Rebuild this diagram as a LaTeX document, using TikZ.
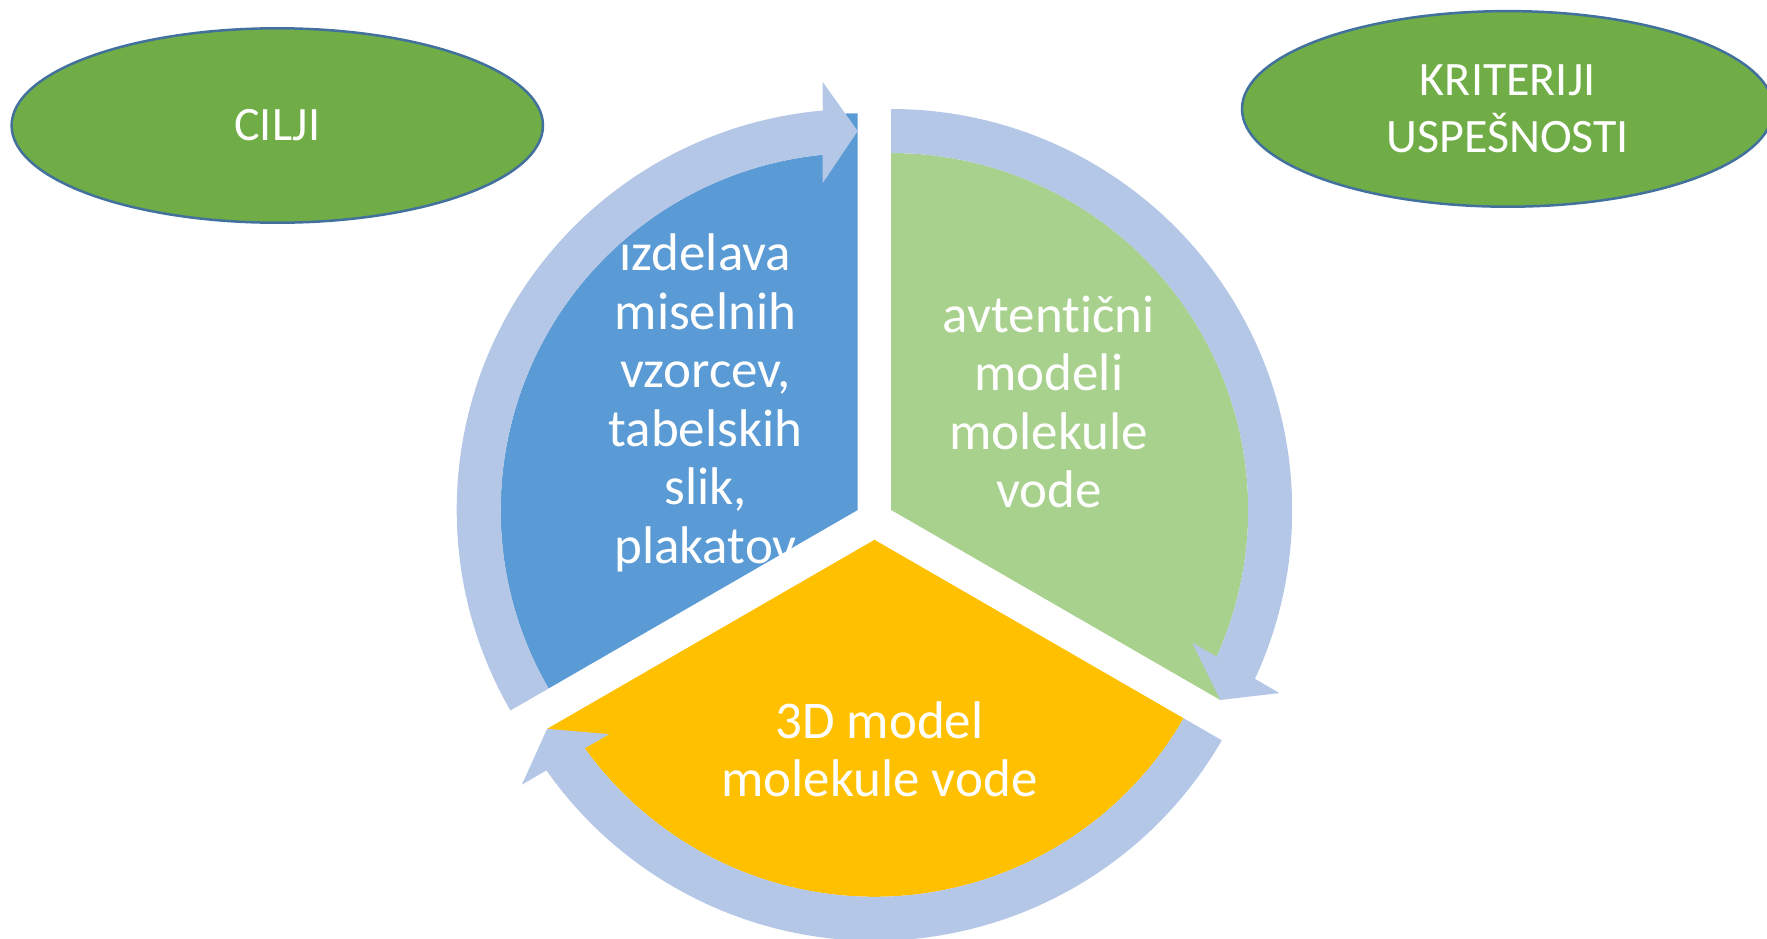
\documentclass[tikz,border=0pt]{standalone}
\usepackage{fontspec}
\setmainfont{Carlito}[Ligatures=NoCommon]
\usetikzlibrary{shapes.geometric}
\definecolor{ringblue}{HTML}{B4C7E7}
\definecolor{segblue}{HTML}{5B9BD5}
\definecolor{seggreen}{HTML}{A9D18E}
\definecolor{segorange}{HTML}{FFC000}
\definecolor{ovalfill}{HTML}{70AD47}
\definecolor{ovalline}{HTML}{41719C}
\newcommand{\topstrut}{\rule{0pt}{40pt}}
\begin{document}
\begin{tikzpicture}[x=1pt,y=1pt,
  oval/.style={ellipse, draw=ovalline, line width=2.5pt, fill=ovalfill, inner sep=0pt,
    text=white, align=center, font=\fontsize{48}{56.7}\selectfont},
  segtext/.style={text=white, align=center, inner sep=0pt, anchor=north,
    font=\fontsize{53}{58.5}\selectfont},
  ringfill/.style={fill=ringblue}]
\useasboundingbox (0,0) rectangle (1767,-938);
\clip (0,0) rectangle (1767,-938);

% centres of the three segments
\coordinate (cb) at (857.7,-510);
\coordinate (cg) at (891.2,-510);
\coordinate (co) at (874.5,-539.8);

% segments
\begin{scope}[shift={(cb)}]
  \fill[segblue] (0,0) -- (210:357) arc[start angle=210, end angle=93, radius=357]
    -- (-12,396.7) -- (0,396.7) -- cycle;
\end{scope}
\begin{scope}[shift={(cg)}]
  \fill[seggreen] (0,0) -- (90:357) arc[start angle=90, end angle=-24.5, radius=357]
    -- (-30:380) -- cycle;
\end{scope}
\begin{scope}[shift={(co)}]
  \fill[segorange] (0,0) -- (-30:357) arc[start angle=-30, end angle=-144.5, radius=357]
    -- (-150:378) -- cycle;
\end{scope}

% circular arrows
\begin{scope}[shift={(cb)}]
  \fill[ringfill] (210:401) arc[start angle=210, end angle=95.0, radius=401]
    -- (-35.0,428.0) -- (90:379) -- (-35.0,327.0) -- (95.63:357)
    arc[start angle=95.63, end angle=210, radius=357] -- cycle;
\end{scope}
\begin{scope}[shift={(cg)}]
  \fill[ringfill] (90:401) arc[start angle=90, end angle=-24.9, radius=401]
    -- (388.3,-183.05) -- (-30:380) -- (300.9,-132.55) -- (-24.27:357)
    arc[start angle=-24.27, end angle=90, radius=357] -- cycle;
\end{scope}
\begin{scope}[shift={(co)}]
  \fill[ringfill] (-30:401) arc[start angle=-30, end angle=-144.9, radius=401]
    -- (-352.6,-244.85) -- (-150:378) -- (-265.2,-194.35) -- (-144.27:357)
    arc[start angle=-144.27, end angle=-30, radius=357] -- cycle;
\end{scope}

% segment texts
\node[segtext] (tblue) at (705.5,-230.5)
  {\topstrut ızdelava\\miselnih\\vzorcev,\\tabelskih\\slik,\\plakatov};
\node[segtext] (tgreen) at (1048.8,-292)
  {\topstrut avtentični\\modeli\\molekule\\vode};
\node[segtext] (torange) at (879.5,-698)
  {\topstrut 3D model\\molekule vode};

% ovals
\node[oval, minimum width=531.4pt, minimum height=194.4pt] (cilji) at (277.3,-125.5) {CILJI};
\node[oval, minimum width=531.4pt, minimum height=195.6pt] (krit) at (1507.7,-108.9)
  {KRITERIJI\\USPEŠNOSTI};
\end{tikzpicture}
\end{document}
